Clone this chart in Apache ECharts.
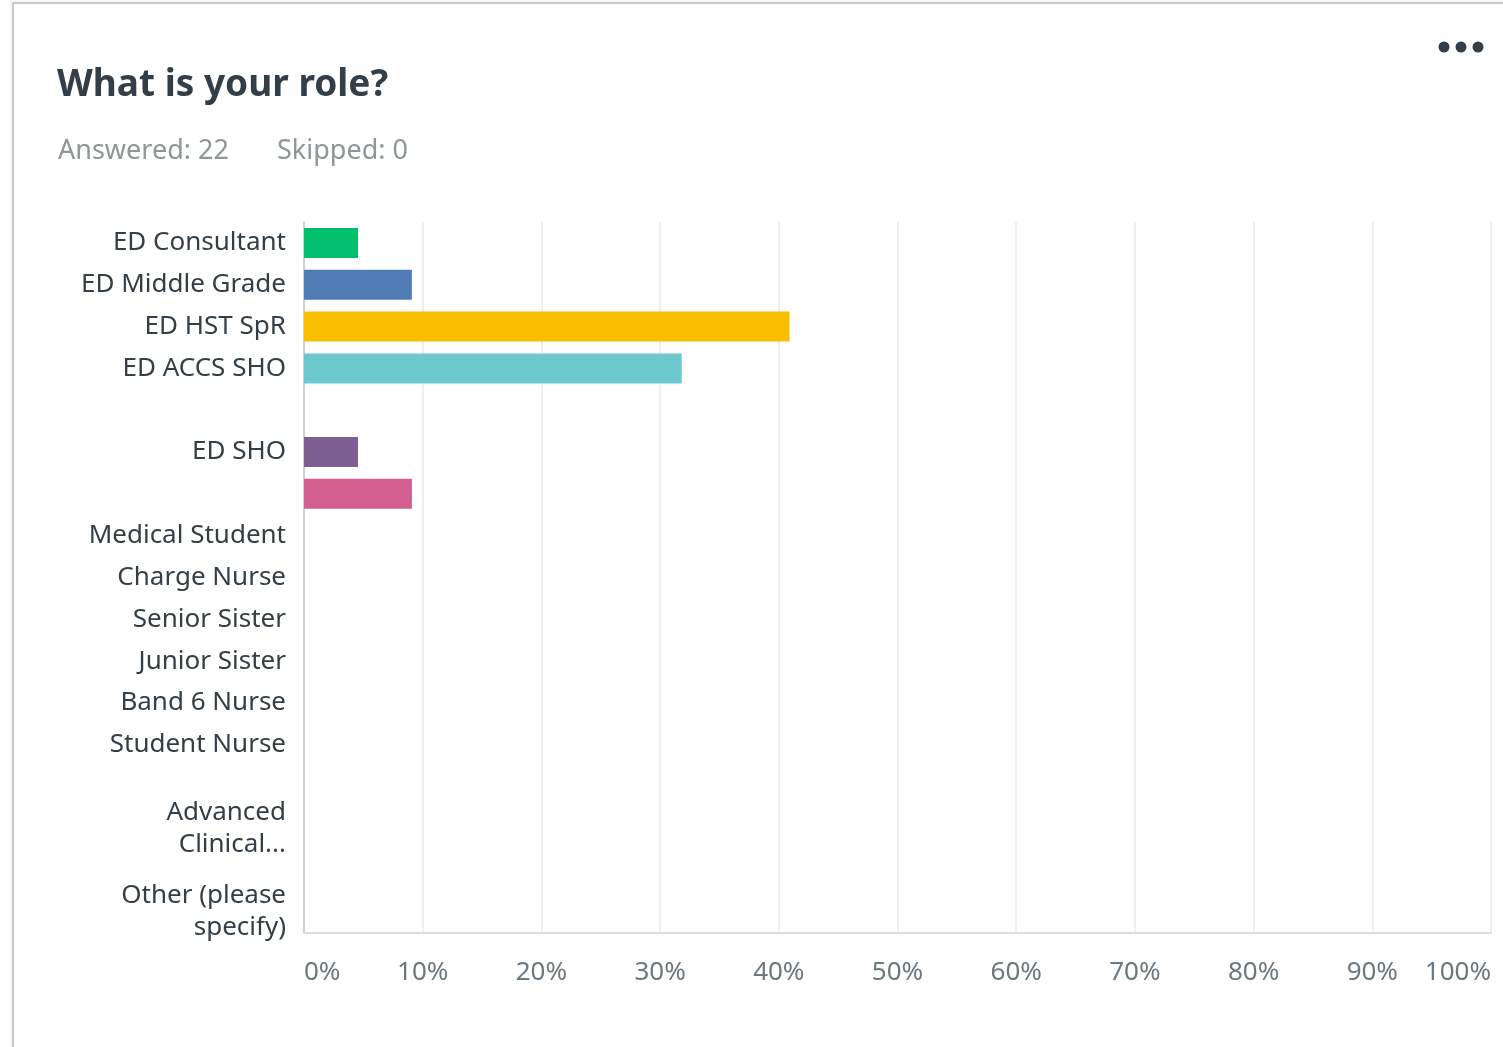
<!DOCTYPE html>
<html><head><meta charset="utf-8">
<script src="https://cdn.jsdelivr.net/npm/echarts@6/dist/echarts.min.js"></script>
<style>
html,body{margin:0;padding:0;background:#fff;width:1503px;height:1047px;overflow:hidden;}
#card{position:absolute;left:12px;top:2px;width:1500px;height:1100px;border-left:2px solid #c8c8c8;border-top:2px solid #c8c8c8;box-shadow:-1px -1px 3px rgba(0,0,0,0.08);}
#chart{position:absolute;left:0;top:0;width:1503px;height:1047px;}
</style></head>
<body><div id="card"></div><div id="chart"></div>
<script>
const categories = ['ED Consultant','ED Middle Grade','ED HST SpR','ED ACCS SHO','','ED SHO','','Medical Student','Charge Nurse','Senior Sister','Junior Sister','Band 6 Nurse','Student Nurse','','Advanced\nClinical...','','Other (please\nspecify)'];
const values = [4.55, 9.09, 40.91, 31.82, 0, 4.55, 9.09, 0, 0, 0, 0, 0, 0, 0, 0, 0, 0];
const barColors = ['#00bf6f','#507cb6','#f9be00','#6bc8cd','#ff8b4f','#7d5e90','#d25f90','#333e48','#a4bbd9','#fcd766','#a6deda','#ffb995','#b19fbc','#e391b5','#00bf6f','#507cb6','#f9be00'];
const tickLabels = ['0%','10%','20%','30%','40%','50%','60%','70%','80%','90%','100%'];
const titleText = 'What is your role?';
const answeredText = 'Answered: 22';
const skippedText = 'Skipped: 0';

const FONT = '"Noto Sans", sans-serif';
const chart = echarts.init(document.getElementById('chart'));
chart.setOption({
  animation: false,
  title: [{
    text: titleText, left: 52, top: 62,
    textStyle: {fontFamily: FONT, fontSize: 37, fontWeight: 'bold', color: '#333e48'}
  },{
    text: answeredText, left: 53, top: 133,
    textStyle: {fontFamily: FONT, fontSize: 27, fontWeight: 'normal', color: '#8c969c'}
  },{
    text: skippedText, left: 272, top: 133,
    textStyle: {fontFamily: FONT, fontSize: 27, fontWeight: 'normal', color: '#8c969c'}
  }],
  graphic: [
    {type:'circle', shape:{cx:1444, cy:47, r:5.5}, style:{fill:'#333e48'}},
    {type:'circle', shape:{cx:1461, cy:47, r:5.5}, style:{fill:'#333e48'}},
    {type:'circle', shape:{cx:1478, cy:47, r:5.5}, style:{fill:'#333e48'}}
  ],
  grid: {left: 304, right: 12, top: 222, bottom: 114, containLabel: false},
  xAxis: {
    type: 'value', min: 0, max: 100, interval: 10,
    axisLine: {show: true, lineStyle: {color: '#dcdcdc', width: 2}},
    axisTick: {show: false},
    splitLine: {show: true, lineStyle: {color: '#ebebeb', width: 1.5}},
    axisLabel: {
      margin: 27, fontFamily: FONT, fontSize: 26, color: '#6b787f',
      alignMinLabel: 'left', alignMaxLabel: 'right',
      formatter: function (v) { return tickLabels[Math.round(v / 10)]; }
    }
  },
  yAxis: {
    type: 'category', inverse: true, data: categories,
    axisTick: {show: false},
    axisLine: {show: true, lineStyle: {color: '#d0d0d0', width: 2}},
    axisLabel: {margin: 18, fontFamily: FONT, fontSize: 26, color: '#333e48', lineHeight: 32, interval: 0}
  },
  series: [{
    type: 'bar', barWidth: 30,
    data: values.map((v, i) => ({value: v, itemStyle: {color: barColors[i]}}))
  }]
});
</script></body></html>
